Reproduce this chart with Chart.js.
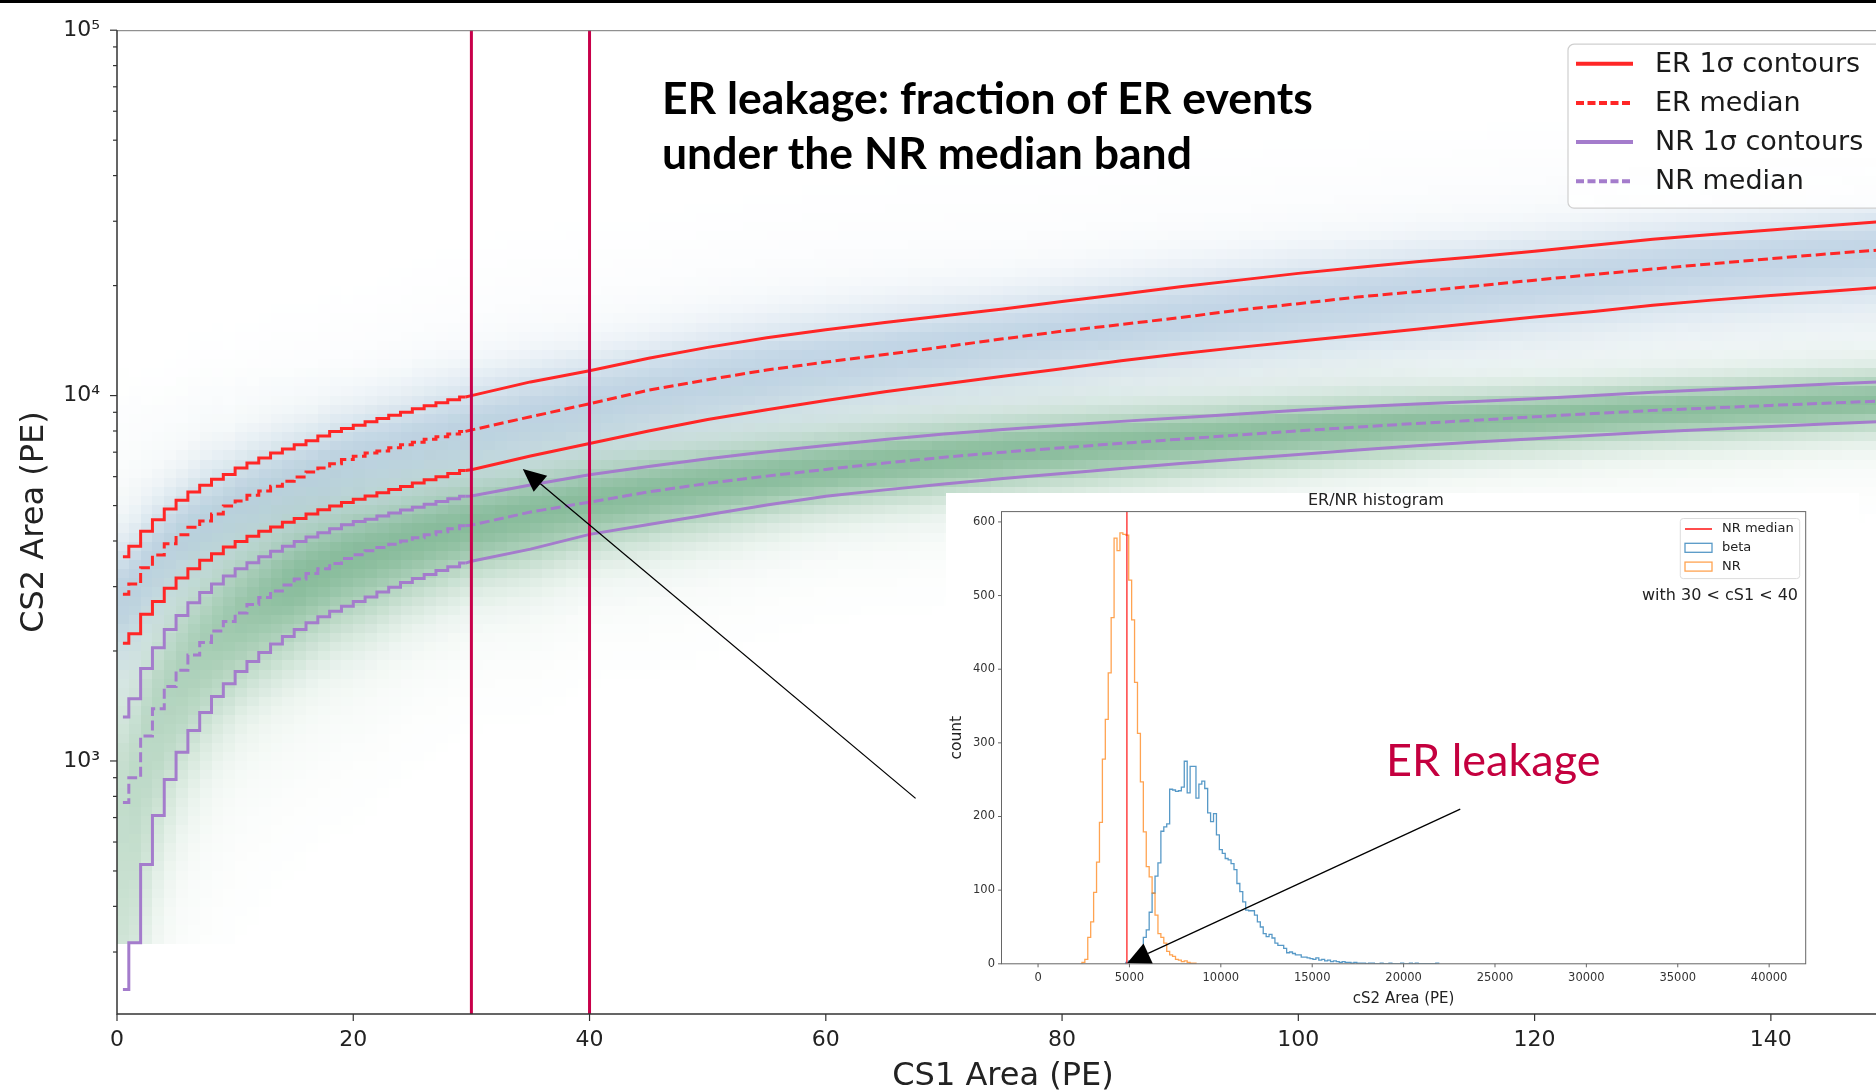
<!DOCTYPE html>
<html lang="en">
<head>
<meta charset="utf-8">
<title>ER / NR discrimination bands</title>
<script src="https://cdn.jsdelivr.net/npm/chart.js@4.4.1/dist/chart.umd.min.js"></script>
<style>
  html, body { margin: 0; padding: 0; background: #fff; overflow: hidden; }
  body { position: relative; width: 1876px; height: 1091px; }
  #bandChart { position: absolute; left: 0; top: 0; }
  #histPanel { position: absolute; left: 946px; top: 493px; width: 913px; height: 519px; background: #fff; }
  #histChart { display: block; }
  .callout { position: absolute; font-family: Lato, "Open Sans", sans-serif; white-space: nowrap; }
  #headline { left: 662px; top: 69px; font-size: 44.5px; line-height: 55px; font-weight: 700; color: #000; }
  #leakLabel { left: 1386px; top: 737px; font-size: 45px; line-height: 45px; color: #c4003f; }
  #topRule { position: absolute; left: 0; top: 0; width: 1876px; height: 3px; background: #000; }
</style>
</head>
<body>
<canvas id="bandChart" width="1900" height="1091"></canvas>
<div id="histPanel"><canvas id="histChart" width="913" height="519"></canvas></div>
<div id="headline" class="callout">ER leakage: fraction of ER events<br>under the NR median band</div>
<div id="leakLabel" class="callout">ER leakage</div>
<div id="topRule"></div>
<script>
// ---------- band contours (cS2 in PE) ----------
// 1-PE bin centres below 30 PE
const fineCs1 = [0.5, 1.5, 2.5, 3.5, 4.5, 5.5, 6.5, 7.5, 8.5, 9.5, 10.5, 11.5, 12.5, 13.5, 14.5,
                 15.5, 16.5, 17.5, 18.5, 19.5, 20.5, 21.5, 22.5, 23.5, 24.5, 25.5, 26.5, 27.5, 28.5, 29.5];
// coarser grid above 30 PE
const coarseCs1 = [30, 35, 40, 45, 50, 55, 60, 65, 70, 75, 80, 85, 90, 95, 100,
                   105, 110, 115, 120, 125, 130, 135, 140, 145, 150];

const erUpperFine = [3620, 3870, 4250, 4570, 4890, 5170, 5450, 5680, 5900, 6080, 6340, 6540, 6750, 6960, 7140,
                     7330, 7520, 7750, 7970, 8130, 8300, 8480, 8650, 8830, 9000, 9200, 9380, 9560, 9740, 9910];
const erUpperCoarse = [10000, 10900, 11700, 12650, 13550, 14400, 15150, 15850, 16550, 17250, 18100, 18950, 19850,
                       20700, 21600, 22400, 23250, 24000, 24850, 25800, 26800, 27600, 28400, 29200, 30050];

const erMedianFine = [2860, 3050, 3380, 3660, 3930, 4160, 4360, 4540, 4740, 4990, 5150, 5340, 5480, 5650, 5830,
                      5990, 6180, 6340, 6510, 6680, 6820, 6960, 7050, 7200, 7330, 7450, 7590, 7720, 7850, 7980];
const erMedianCoarse = [8050, 8750, 9500, 10350, 11050, 11750, 12350, 12950, 13600, 14300, 15000, 15650, 16350,
                        17150, 17850, 18600, 19250, 19950, 20700, 21450, 22200, 22950, 23700, 24450, 25150];

const erLowerFine = [2100, 2230, 2520, 2730, 2970, 3170, 3360, 3540, 3690, 3850, 3990, 4120, 4250, 4370, 4500,
                     4610, 4740, 4870, 4990, 5100, 5200, 5310, 5420, 5530, 5640, 5760, 5880, 6000, 6120, 6240];
const erLowerCoarse = [6270, 6830, 7390, 8000, 8600, 9150, 9700, 10250, 10750, 11300, 11850, 12450, 13020,
                       13550, 14080, 14620, 15200, 15800, 16400, 17000, 17680, 18250, 18780, 19300, 19850];

const nrUpperFine = [1320, 1480, 1790, 2040, 2290, 2500, 2710, 2890, 3050, 3210, 3360, 3490, 3620, 3750, 3870,
                     3990, 4100, 4210, 4320, 4430, 4520, 4590, 4680, 4770, 4860, 4950, 5040, 5130, 5220, 5300];
const nrUpperCoarse = [5310, 5690, 6070, 6400, 6720, 7020, 7300, 7580, 7850, 8080, 8300, 8500, 8700,
                       8900, 9120, 9320, 9480, 9640, 9810, 10000, 10210, 10390, 10570, 10750, 10930];

const nrMedianFine = [770, 900, 1170, 1390, 1600, 1770, 1950, 2110, 2270, 2410, 2540, 2680, 2800, 2920, 3030,
                      3150, 3260, 3360, 3470, 3580, 3670, 3760, 3840, 3920, 4000, 4080, 4160, 4240, 4320, 4400];
const nrMedianCoarse = [4420, 4800, 5110, 5450, 5750, 6020, 6280, 6540, 6780, 7000, 7200, 7400, 7600,
                        7800, 8010, 8200, 8390, 8560, 8750, 8930, 9110, 9250, 9400, 9540, 9680];

const nrLowerFine = [237, 318, 521, 709, 890, 1056, 1211, 1357, 1502, 1626, 1756, 1873, 1980, 2090, 2190,
                     2290, 2390, 2480, 2570, 2650, 2730, 2810, 2900, 2990, 3080, 3160, 3240, 3320, 3400, 3480];
const nrLowerCoarse = [3520, 3800, 4170, 4440, 4720, 5020, 5300, 5520, 5730, 5930, 6120, 6320, 6520,
                       6710, 6900, 7100, 7290, 7460, 7620, 7790, 7950, 8090, 8230, 8370, 8510];

const cs1Window = [30, 40];
const cs1Ticks = [0, 20, 40, 60, 80, 100, 120, 140];
const decadeValues = [1000, 10000, 100000];
const decadeLabels = ['10³', '10⁴', '10⁵'];
const bandLegend = ['ER 1σ contours', 'ER median', 'NR 1σ contours', 'NR median'];

// ---------- cS2 histogram for 30 < cS1 < 40 ----------
const histBinWidth = 160;
const nrFirstEdge = 2400;
const nrCounts = [2, 6, 36, 57, 97, 138, 192, 278, 332, 395, 470, 578, 561, 585, 583, 582, 521, 467, 382, 313,
                  247, 179, 132, 118, 96, 66, 41, 36, 28, 17, 12, 10, 6, 5, 3, 4, 2, 1, 1];
const betaFirstEdge = 4800;
const betaCounts = [2, 4, 6, 10, 14, 20, 36, 46, 70, 96, 119, 137, 180, 186, 190, 237, 236, 234, 235, 240,
                    275, 232, 268, 268, 225, 244, 248, 238, 205, 193, 204, 175, 155, 150, 143, 141, 136, 128, 109, 98,
                    84, 73, 72, 72, 66, 57, 50, 41, 37, 40, 35, 28, 25, 25, 21, 15, 16, 14, 12, 12,
                    9, 9, 8, 7, 6, 8, 5, 6, 4, 5, 3, 4, 3, 2, 3, 2, 2, 1, 2, 1,
                    1, 1, 0, 1, 1, 0, 0, 1, 0, 0, 1, 0, 0, 0, 1, 0, 0, 1, 0, 1,
                    0, 0, 0, 0, 0, 0, 1];
const nrMedianCs2 = 4860;
const cs2Ticks = [0, 5000, 10000, 15000, 20000, 25000, 30000, 35000, 40000];
const countTicks = [0, 100, 200, 300, 400, 500, 600];
const histLegend = ['NR median', 'beta', 'NR'];
const sliceNote = 'with 30 < cS1 < 40';

// ---------- styling ----------
Chart.defaults.font.family = '"DejaVu Sans", sans-serif';
Chart.defaults.color = '#222';

const Y_MIN = 203, Y_MAX = 100000;
const ER_RED = 'rgb(255, 38, 38)';
const NR_PURPLE = 'rgb(164, 124, 204)';
const CUT_RED = '#c8004a';
const DASH = [10, 4.5];

function contourPair(fine, coarse, color, dashed) {
  const common = {
    borderColor: color, borderWidth: 3, borderDash: dashed ? DASH : [],
    pointRadius: 0, fill: false, order: 2
  };
  const last = fine.length - 1;
  return [
    { ...common, stepped: 'middle', data: fineCs1.map((x, i) => ({ x, y: fine[i] })) },
    { ...common, tension: 0,
      data: [{ x: fineCs1[last], y: fine[last] }].concat(coarseCs1.map((x, i) => ({ x, y: coarse[i] }))) }
  ];
}

// value of a contour at a given cS1, for the background shading
function bandAt(xc, fine, coarse) {
  if (xc < coarseCs1[0]) return fine[Math.min(fine.length - 1, Math.floor(xc))];
  for (let i = 0; i < coarseCs1.length - 1; i++) {
    if (xc <= coarseCs1[i + 1]) {
      const t = (xc - coarseCs1[i]) / (coarseCs1[i + 1] - coarseCs1[i]);
      return 10 ** ((1 - t) * Math.log10(coarse[i]) + t * Math.log10(coarse[i + 1]));
    }
  }
  return coarse[coarse.length - 1];
}

function density(l, lo, mid, hi) {
  const s = l >= mid ? hi - mid : mid - lo;
  const z = (l - mid) / s;
  return 0.82 * Math.exp(-0.5 * z * z) + 0.18 * Math.exp(-z * z / 10);
}

// 2D-histogram style shading of both populations
const densityShading = {
  id: 'densityShading',
  beforeDatasetsDraw(chart) {
    const { ctx, chartArea: a, scales: { x, y } } = chart;
    const rows = 100, lo = 2.5, hi = 5;
    ctx.save();
    ctx.beginPath();
    ctx.rect(a.left, a.top, a.width, a.height);
    ctx.clip();
    for (let c = 0; c < 150; c++) {
      const xc = c + 0.5;
      const x0 = Math.round(x.getPixelForValue(c));
      const x1 = Math.round(x.getPixelForValue(c + 1));
      const er = [bandAt(xc, erLowerFine, erLowerCoarse), bandAt(xc, erMedianFine, erMedianCoarse),
                  bandAt(xc, erUpperFine, erUpperCoarse)].map(Math.log10);
      const nr = [bandAt(xc, nrLowerFine, nrLowerCoarse), bandAt(xc, nrMedianFine, nrMedianCoarse),
                  bandAt(xc, nrUpperFine, nrUpperCoarse)].map(Math.log10);
      const nrStrength = Math.min(1, 0.5 + xc / 30);
      for (let r = 0; r < rows; r++) {
        const l0 = lo + (hi - lo) * r / rows;
        const l1 = lo + (hi - lo) * (r + 1) / rows;
        const lm = (l0 + l1) / 2;
        const yt = Math.round(y.getPixelForValue(10 ** l1));
        const yb = Math.round(y.getPixelForValue(10 ** l0));
        const aE = 0.42 * density(lm, er[0], er[1], er[2]);
        const aN = 0.56 * nrStrength * density(lm, nr[0], nr[1], nr[2]);
        if (aE > 0.004) {
          ctx.fillStyle = `rgba(110, 155, 195, ${aE.toFixed(3)})`;
          ctx.fillRect(x0, yt, x1 - x0, yb - yt);
        }
        if (aN > 0.004) {
          ctx.fillStyle = `rgba(50, 140, 80, ${aN.toFixed(3)})`;
          ctx.fillRect(x0, yt, x1 - x0, yb - yt);
        }
      }
    }
    ctx.restore();
  }
};

function strokeLine(ctx, x0, y0, x1, y1) {
  ctx.beginPath();
  ctx.moveTo(x0, y0);
  ctx.lineTo(x1, y1);
  ctx.stroke();
}

function drawArrow(ctx, tail, tip, headLen, headHalf, width) {
  const ang = Math.atan2(tip.y - tail.y, tip.x - tail.x);
  const cos = Math.cos(ang), sin = Math.sin(ang);
  const bx = tip.x - headLen * cos, by = tip.y - headLen * sin;
  ctx.save();
  ctx.strokeStyle = '#000';
  ctx.fillStyle = '#000';
  ctx.lineWidth = width;
  strokeLine(ctx, tail.x, tail.y, bx, by);
  ctx.beginPath();
  ctx.moveTo(tip.x, tip.y);
  ctx.lineTo(bx - headHalf * sin, by + headHalf * cos);
  ctx.lineTo(bx + headHalf * sin, by - headHalf * cos);
  ctx.closePath();
  ctx.fill();
  ctx.restore();
}

// spines and tick marks (long on decades, short in between)
const axisFrame = {
  id: 'axisFrame',
  afterDatasetsDraw(chart) {
    const { ctx, chartArea: a, scales: { x, y } } = chart;
    ctx.save();
    ctx.strokeStyle = '#777';
    ctx.lineWidth = 1;
    strokeLine(ctx, a.left, a.top + 0.5, a.right, a.top + 0.5);
    ctx.strokeStyle = '#333';
    ctx.lineWidth = 1.5;
    ctx.beginPath();
    ctx.moveTo(a.left, a.top);
    ctx.lineTo(a.left, a.bottom);
    ctx.lineTo(a.right, a.bottom);
    ctx.stroke();
    ctx.lineWidth = 1.2;
    x.ticks.forEach(t => {
      const px = x.getPixelForValue(t.value);
      strokeLine(ctx, px, a.bottom, px, a.bottom + 7);
    });
    y.ticks.forEach(t => {
      const sig = t.value / 10 ** Math.floor(Math.log10(t.value));
      if (Math.abs(sig - Math.round(sig)) > 1e-6) return;
      const py = y.getPixelForValue(t.value);
      const len = Math.round(sig) === 1 ? 7 : 4;
      strokeLine(ctx, a.left - len, py, a.left, py);
    });
    ctx.restore();
  }
};

const bandLegendPlugin = {
  id: 'bandLegend',
  afterDraw(chart) {
    const { ctx, chartArea: a } = chart;
    const styles = [
      { color: ER_RED, dash: [] }, { color: ER_RED, dash: [8, 3.5] },
      { color: NR_PURPLE, dash: [] }, { color: NR_PURPLE, dash: [8, 3.5] }
    ];
    const left = a.right - 321, top = a.top + 14;
    ctx.save();
    ctx.beginPath();
    ctx.roundRect(left, top, 340, 164, 6);
    ctx.fillStyle = 'rgba(255, 255, 255, 0.85)';
    ctx.fill();
    ctx.strokeStyle = '#cfcfcf';
    ctx.lineWidth = 1.2;
    ctx.stroke();
    ctx.font = '27px "DejaVu Sans"';
    ctx.textBaseline = 'middle';
    bandLegend.forEach((label, i) => {
      const yy = top + 19.5 + i * 39.2;
      ctx.strokeStyle = styles[i].color;
      ctx.lineWidth = 4;
      ctx.setLineDash(styles[i].dash);
      strokeLine(ctx, left + 8, yy, left + 65, yy);
      ctx.setLineDash([]);
      ctx.fillStyle = '#1a1a1a';
      ctx.fillText(label, left + 87, yy + 1);
    });
    ctx.restore();
  }
};

const pointerArrow = {
  id: 'pointerArrow',
  afterDraw(chart) {
    const { ctx, scales: { x, y } } = chart;
    const tail = { x: x.getPixelForValue(67.6), y: y.getPixelForValue(790) };
    const tip = { x: x.getPixelForValue(34.35), y: y.getPixelForValue(6300) };
    drawArrow(ctx, tail, tip, 23, 10.5, 1.3);
  }
};

const bandSets = [
  ...cs1Window.map(v => ({
    data: [{ x: v, y: Y_MIN }, { x: v, y: Y_MAX }],
    borderColor: CUT_RED, borderWidth: 3, pointRadius: 0, fill: false, order: 1
  })),
  ...contourPair(erUpperFine, erUpperCoarse, ER_RED, false),
  ...contourPair(erMedianFine, erMedianCoarse, ER_RED, true),
  ...contourPair(erLowerFine, erLowerCoarse, ER_RED, false),
  ...contourPair(nrUpperFine, nrUpperCoarse, NR_PURPLE, false),
  ...contourPair(nrMedianFine, nrMedianCoarse, NR_PURPLE, true),
  ...contourPair(nrLowerFine, nrLowerCoarse, NR_PURPLE, false)
];

new Chart(document.getElementById('bandChart'), {
  type: 'line',
  data: { datasets: bandSets },
  options: {
    responsive: false,
    animation: false,
    devicePixelRatio: 1,
    layout: { padding: { top: 19, right: 11, left: 0, bottom: 0 } },
    plugins: { legend: { display: false }, tooltip: { enabled: false } },
    scales: {
      x: {
        type: 'linear', min: 0, max: 150,
        afterFit: s => { s.height = 77; },
        afterBuildTicks: s => { s.ticks = cs1Ticks.map(v => ({ value: v })); },
        grid: { display: false, drawTicks: false },
        border: { display: false },
        ticks: { autoSkip: false, maxRotation: 0, padding: 13, color: '#222', font: { size: 22 } },
        title: { display: true, text: 'CS1 Area (PE)', color: '#222', font: { size: 32, lineHeight: 0.9 },
                 padding: { top: 0, bottom: 0 } }
      },
      y: {
        type: 'logarithmic', min: Y_MIN, max: Y_MAX,
        afterFit: s => { s.width = 117; },
        grid: { display: false, drawTicks: false },
        border: { display: false },
        ticks: {
          autoSkip: false, padding: 17, color: '#222', font: { size: 22 },
          callback: v => {
            const i = decadeValues.indexOf(v);
            return i >= 0 ? decadeLabels[i] : '';
          }
        },
        title: { display: true, text: 'CS2 Area (PE)', color: '#222', font: { size: 32 },
                 padding: { top: 15, bottom: 0 } }
      }
    }
  },
  plugins: [densityShading, axisFrame, bandLegendPlugin, pointerArrow]
});

// ---------- inset histogram ----------
function stepOutline(firstEdge, counts) {
  const pts = [{ x: firstEdge, y: 0 }];
  counts.forEach((c, i) => pts.push({ x: firstEdge + i * histBinWidth, y: c }));
  pts.push({ x: firstEdge + counts.length * histBinWidth, y: 0 });
  return pts;
}

const HIST_TOP = 614;
const MEDIAN_RED = 'rgba(255, 0, 0, 0.7)';
const BETA_BLUE = 'rgba(31, 119, 180, 0.75)';
const NR_ORANGE = 'rgba(255, 127, 14, 0.72)';

const histFrame = {
  id: 'histFrame',
  afterDatasetsDraw(chart) {
    const { ctx, chartArea: a, scales: { x, y } } = chart;
    ctx.save();
    ctx.strokeStyle = '#666';
    ctx.lineWidth = 1;
    ctx.strokeRect(a.left, a.top, a.width, a.height);
    x.ticks.forEach(t => {
      const px = x.getPixelForValue(t.value);
      strokeLine(ctx, px, a.bottom, px, a.bottom + 3.5);
    });
    y.ticks.forEach(t => {
      const py = y.getPixelForValue(t.value);
      strokeLine(ctx, a.left - 3.5, py, a.left, py);
    });

    // legend
    const bl = a.right - 125.4, bt = a.top + 6.9;
    ctx.beginPath();
    ctx.roundRect(bl, bt, 119.4, 60.1, 3);
    ctx.fillStyle = 'rgba(255, 255, 255, 0.85)';
    ctx.fill();
    ctx.strokeStyle = '#dcdcdc';
    ctx.stroke();
    ctx.font = '13px "DejaVu Sans"';
    ctx.textBaseline = 'middle';
    histLegend.forEach((label, i) => {
      const yy = bt + 10.5 + i * 18.8;
      if (i === 0) {
        ctx.strokeStyle = MEDIAN_RED;
        ctx.lineWidth = 2;
        strokeLine(ctx, bl + 4.7, yy, bl + 31.7, yy);
      } else {
        ctx.strokeStyle = i === 1 ? BETA_BLUE : NR_ORANGE;
        ctx.lineWidth = 1.3;
        ctx.strokeRect(bl + 4.7, yy - 4.5, 27, 9);
      }
      ctx.fillStyle = '#222';
      ctx.fillText(label, bl + 41.7, yy);
    });

    ctx.font = '16px "DejaVu Sans"';
    ctx.textAlign = 'right';
    ctx.fillText(sliceNote, a.right - 7.7, a.top + 84.4);
    ctx.restore();

    const tail = { x: x.getPixelForValue(23100), y: y.getPixelForValue(210) };
    const tip = { x: x.getPixelForValue(4880), y: y.getPixelForValue(1) };
    drawArrow(ctx, tail, tip, 23, 11, 1.3);
  }
};

new Chart(document.getElementById('histChart'), {
  type: 'line',
  data: {
    datasets: [
      { data: [{ x: nrMedianCs2, y: 0 }, { x: nrMedianCs2, y: HIST_TOP }], borderColor: MEDIAN_RED,
        borderWidth: 1.6, pointRadius: 0, fill: false, order: 0 },
      { data: stepOutline(betaFirstEdge, betaCounts), stepped: 'before', borderColor: BETA_BLUE,
        borderWidth: 1.3, pointRadius: 0, fill: false, order: 2 },
      { data: stepOutline(nrFirstEdge, nrCounts), stepped: 'before', borderColor: NR_ORANGE,
        borderWidth: 1.3, pointRadius: 0, fill: false, order: 1 }
    ]
  },
  options: {
    responsive: false,
    animation: false,
    devicePixelRatio: 1,
    layout: { padding: { top: 0, right: 53.3, left: 0, bottom: 0 } },
    plugins: {
      legend: { display: false },
      tooltip: { enabled: false },
      title: { display: true, text: 'ER/NR histogram', color: '#222',
               font: { size: 16, weight: 'normal', lineHeight: 1 }, padding: { top: 0, bottom: 2.6 } }
    },
    scales: {
      x: {
        type: 'linear', min: -2000, max: 42000,
        afterFit: s => { s.height = 48.2; },
        afterBuildTicks: s => { s.ticks = cs2Ticks.map(v => ({ value: v })); },
        grid: { display: false, drawTicks: false },
        border: { display: false },
        ticks: { autoSkip: false, maxRotation: 0, padding: 7,
                 color: '#333', font: { size: 11.5 }, callback: v => String(v) },
        title: { display: true, text: 'cS2 Area (PE)', color: '#222', font: { size: 15 },
                 padding: { top: 0, bottom: 4 } }
      },
      y: {
        type: 'linear', min: 0, max: HIST_TOP,
        afterFit: s => { s.width = 55.5; },
        afterBuildTicks: s => { s.ticks = countTicks.map(v => ({ value: v })); },
        grid: { display: false, drawTicks: false },
        border: { display: false },
        ticks: { autoSkip: false, padding: 6.5,
                 color: '#333', font: { size: 11.5 }, callback: v => String(v) },
        title: { display: true, text: 'count', color: '#222', font: { size: 15.5 },
                 padding: { top: 1.4, bottom: 0 } }
      }
    }
  },
  plugins: [histFrame]
});
</script>
</body>
</html>
